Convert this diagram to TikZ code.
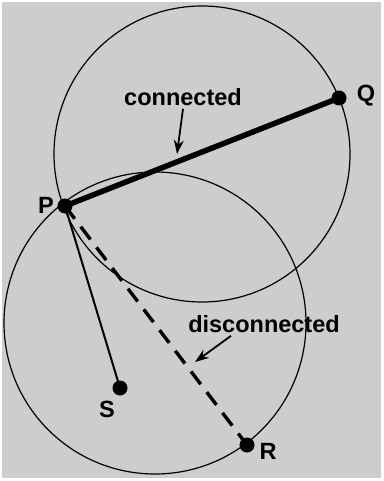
\documentclass[tikz,border=0pt]{standalone}
\usepackage{fontspec}
\setmainfont{Liberation Sans}
\usetikzlibrary{arrows.meta}
\definecolor{bg}{RGB}{205,205,205}
\tikzset{
  dot/.style={circle,fill=black,inner sep=0pt,minimum size=15pt},
  lbl/.style={font=\fontsize{23.5}{25}\selectfont\bfseries,inner sep=0pt},
  ring/.style={draw=black,line width=1.2pt},
  link/.style={line width=5.5pt},
  weak/.style={line width=2pt},
  broken/.style={line width=3.4pt,dash pattern=on 16pt off 10pt},
  pointer/.style={line width=1.8pt,-{Stealth[length=14pt,width=10pt]}}
}
\begin{document}
\begin{tikzpicture}[x=1pt,y=-1pt]
\useasboundingbox (0,0) rectangle (383,481);
\fill[bg] (2,2) rectangle (381,478);
\draw[ring] (202,154) circle (148);
\draw[ring] (155,323) circle (151);
\node[dot] (P) at (65,206) {};
\node[dot] (Q) at (339,98) {};
\node[dot] (S) at (120,388) {};
\node[dot] (R) at (247,445) {};
\node[lbl] (lP) at (46,205) {P};
\node[lbl] (lQ) at (366,96) {Q};
\node[lbl] (lS) at (107,409) {S};
\node[lbl] (lR) at (268,451) {R};
\draw[link] (P.center) -- (Q.center);
\draw[weak] (P.center) -- (S.center);
\draw[broken] (P.center) -- (R.center);
\node[lbl] (con) at (183,97) {connected};
\node[lbl] (dis) at (264,324) {disconnected};
\coordinate (cT) at (177,154);
\coordinate (dT) at (195,362);
\draw[pointer] ([yshift=-3pt]con.south) -- (cT);
\draw[pointer] ([xshift=-33pt,yshift=-3pt]dis.south) -- (dT);
\end{tikzpicture}
\end{document}
